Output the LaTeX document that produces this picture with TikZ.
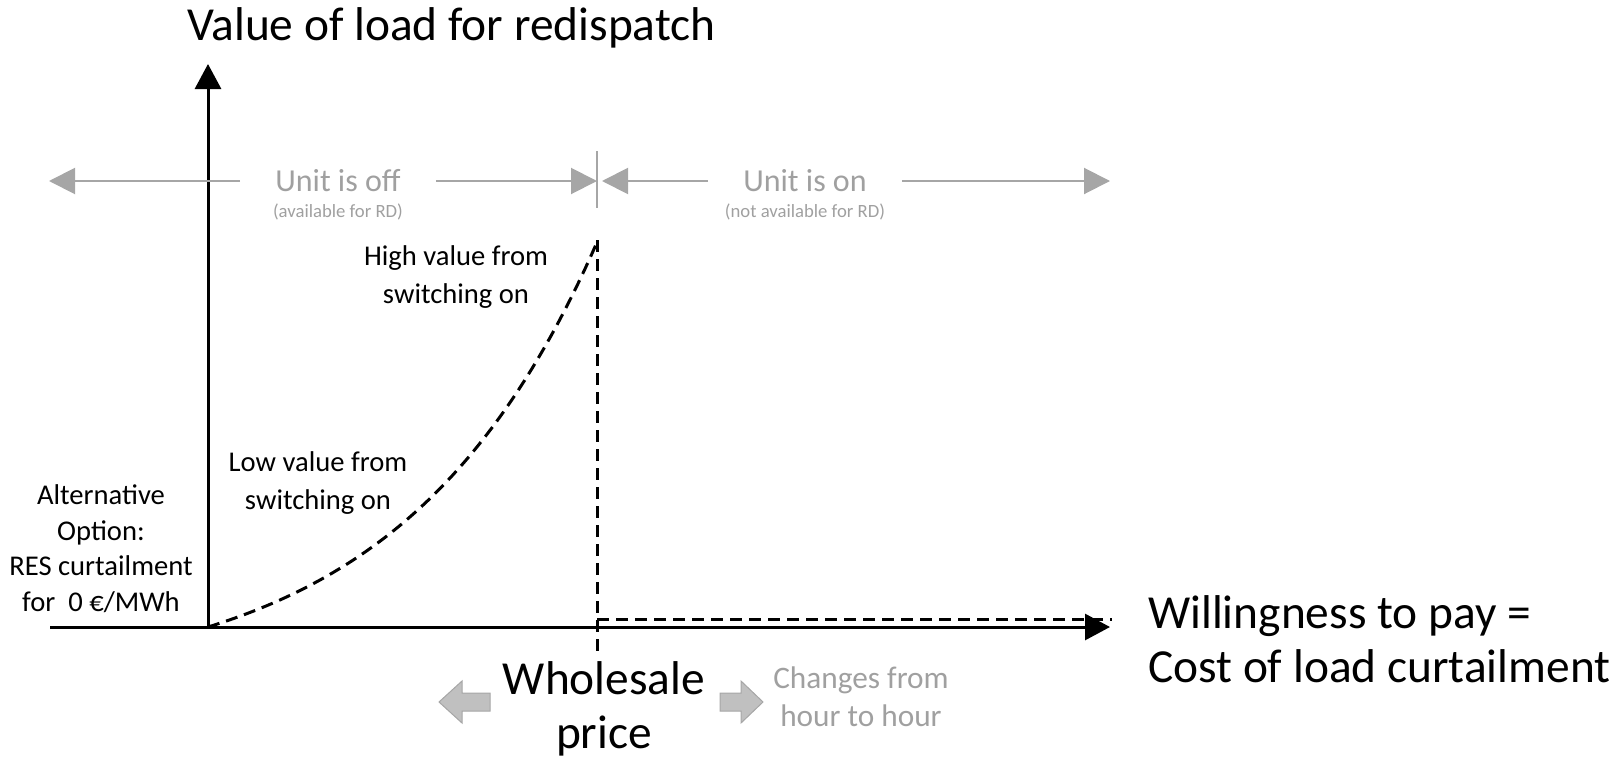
\documentclass[tikz,border=0pt]{standalone}
\usepackage{fontspec}
\setmainfont{Carlito}
\usetikzlibrary{arrows.meta}

\definecolor{lightline}{HTML}{A6A6A6}
\definecolor{lighttext}{HTML}{A0A0A0}
\definecolor{blockfill}{HTML}{C0C0C0}

\begin{document}
\begin{tikzpicture}[x=1pt,y=-1pt,
	axis/.style={line width=3pt,-{Triangle[length=25pt,width=26pt]}},
	guide/.style={lightline,line width=2pt,-{Triangle[length=26pt,width=26pt]}},
	curve/.style={line width=3pt,dash pattern=on 12pt off 7pt},
	bigtxt/.style={font=\fontsize{47.4}{54}\selectfont,inner sep=0pt},
	medtxt/.style={font=\fontsize{28.6}{38}\selectfont,align=center,inner sep=0pt},
	graytxt/.style={lighttext,font=\fontsize{32}{38}\selectfont,inner ysep=0pt,inner xsep=35pt},
	notetxt/.style={lighttext,font=\fontsize{18.7}{22}\selectfont,inner sep=0pt},
	blockarrow/.style={fill=blockfill,draw=lightline,line width=1pt}]
	\useasboundingbox (0,0) rectangle (1621,760);
	% axes
	\draw[axis] (208,627) -- (208,64);
	\draw[axis] (50,627) -- (1110,627);
	\node[bigtxt,anchor=base west] (title) at (187,41) {Value of load for redispatch};
	% off / on ranges
	\node[graytxt] (off) at (338,181) {Unit is off};
	\node[notetxt,anchor=base] (offnote) at (338,217) {(available for RD)};
	\draw[guide] (off.west) -- (49,181);
	\draw[guide] (off.east) -- (597,181);
	\draw[lightline,line width=1.5pt] (597,151) -- (597,208);
	\node[graytxt] (on) at (805,181) {Unit is on};
	\node[notetxt,anchor=base] (onnote) at (805,217) {(not available for RD)};
	\draw[guide] (on.west) -- (602,181);
	\draw[guide] (on.east) -- (1110,181);
	% value curve
	\draw[curve] plot[domain=0:1,samples=60] ({208+390*\x},{627-387*(exp(2*\x)-1)/(exp(2)-1)});
	\draw[curve] (597,240) -- (597,651);
	\draw[curve] (597,619) -- (1112,619);
	\node[medtxt,anchor=base] (high) at (456,303) {High value from\\switching on};
	\node[medtxt,anchor=base] (low) at (318,509) {Low value from\\switching on};
	\node[medtxt,anchor=base,font=\fontsize{28.6}{35.5}\selectfont] (alt) at (101,611) {Alternative\\Option:\\RES curtailment\\for~~0 €/MWh};
	\node[bigtxt,align=left,anchor=base west] (wtp) at (1148,682) {Willingness to pay =\\Cost of load curtailment};
	% wholesale price
	\node[bigtxt,align=center,anchor=base] (price) at (604,748) {Wholesale\\price};
	\draw[blockarrow] (490,693) -- (462,693) -- (462,681) -- (439,702) -- (462,723) -- (462,711) -- (490,711) -- cycle;
	\draw[blockarrow] (720,693) -- (741,693) -- (741,681) -- (763,702) -- (741,723) -- (741,711) -- (720,711) -- cycle;
	\node[lighttext,font=\fontsize{31.3}{38}\selectfont,align=center,anchor=base] (changes) at (861,726) {Changes from\\hour to hour};
\end{tikzpicture}
\end{document}
